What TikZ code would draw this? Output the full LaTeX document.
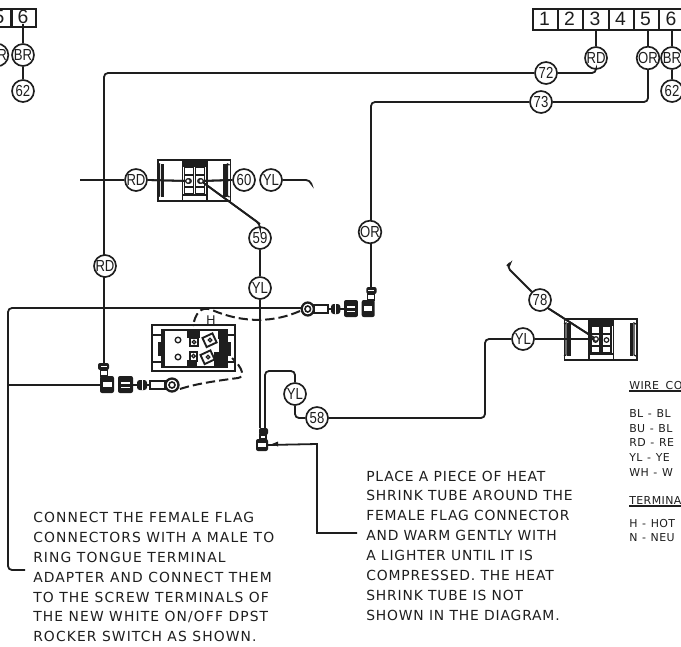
\documentclass[tikz,border=0pt]{standalone}
\usepackage{fontspec}
\setmainfont{DejaVu Sans}
\newfontfamily\notefont[LetterSpace=6]{DejaVu Sans}
\newfontfamily\noteafont[LetterSpace=8]{DejaVu Sans}
\newfontfamily\legfont[LetterSpace=4]{DejaVu Sans}
\newfontfamily\tagfont{Liberation Sans}
\newcommand\tg[1]{\scalebox{.82}[1]{\tagfont #1}}
\newcommand\ld{\hspace{3.5pt}-\hspace{3.5pt}}
\definecolor{ink}{HTML}{1E1E1E}
\tikzset{
 x=.75pt,y=-.75pt,
 wire/.style={draw=ink,line width=1.35pt,rounded corners=3pt},
 dash wire/.style={draw=ink,line width=1.5pt,dash pattern=on 7pt off 3pt},
 tagc/.style={circle,draw=ink,line width=1.25pt,fill=white,minimum size=16.5pt,inner sep=0pt,text=ink,font=\fontsize{12}{12}\selectfont},
 note/.style={align=left,anchor=north west,inner sep=0pt,text=ink,font=\fontsize{10.4}{14.9}\notefont},
 notea/.style={align=left,anchor=north west,inner sep=0pt,text=ink,font=\fontsize{10.4}{14.9}\noteafont},
 legend/.style={anchor=base west,inner sep=0pt,text=ink,font=\fontsize{8.2}{9}\legfont},
 numcell/.style={draw=ink,line width=1.4pt,inner sep=0pt,anchor=north west},
 digit/.style={inner sep=0pt,text=ink,font=\fontsize{14.5}{14.5}\tagfont},
 term/.pic={
  \draw[ink,line width=1.25pt] (-36.5,-20) rectangle (36,21);
  \fill[ink] (-13,-19) rectangle (13,-13);
  \fill[ink] (-13,-19) rectangle (-11.5,20);
  \fill[ink] (11.5,-19) rectangle (13,20);
  \fill[ink] (-13,14) rectangle (13,15.5);
  \foreach \xa in {-10,1}{
    \draw[ink,line width=1pt,fill=white] (\xa,-13) rectangle ++(9,27);
    \draw[ink,line width=1pt] (\xa,-5) -- ++(9,0) (\xa,7) -- ++(9,0);
    \draw[ink,line width=.9pt,fill=white] (\xa+4.5,1) circle (2.3);
  }
  \draw[ink,line width=.9pt] (-37,-15) -- (-35,-16) -- (-35,16) -- (-37,17);
  \fill[ink] (-34,-16) rectangle (-30.5,17);
  \draw[ink,line width=.9pt] (35,-15) -- (33,-16) -- (33,16) -- (35,17);
  \fill[ink] (32,-16) rectangle (28.5,17);
 },
 flagconn/.pic={
  \fill[ink,rounded corners=1.5pt] (-6,-22) rectangle (5,-15);
  \fill[white] (-3,-19.5) rectangle (3,-18.5);
  \draw[ink,line width=1pt,fill=white] (-3.5,-15) rectangle (3.5,-9);
  \fill[ink,rounded corners=1.5pt] (-4,-9) rectangle (10,8);
  \fill[white] (-1,-3) rectangle (8,2);
  \fill[ink,rounded corners=1.5pt] (14,-9) rectangle (29,8);
  \fill[white] (17,-3) rectangle (26,-1.5);
  \fill[white] (17,1.5) rectangle (26,3);
  \draw[ink,line width=1.2pt] (29,0) -- (33,0);
  \fill[ink,rounded corners=2pt] (33,-5) rectangle (43,5);
  \fill[white] (37.5,-5) rectangle (38.5,5);
  \draw[ink,line width=1.2pt] (43,0) -- (46,0);
  \draw[ink,line width=1.2pt,fill=white] (46,-4) rectangle (61,4);
  \draw[ink,line width=1.7pt,fill=white] (68,0) circle (6.5);
  \draw[ink,line width=1.2pt] (68,0) circle (3);
 }
}
\begin{document}
\begin{tikzpicture}
\clip (0,0) rectangle (681,646);
\fill[white] (0,0) rectangle (681,646);

% terminal strips
\node[numcell,minimum width=18.75pt,minimum height=15.75pt] (a1) at (532,8) {};
\node[numcell,minimum width=18.75pt,minimum height=15.75pt] (a2) at (557,8) {};
\node[numcell,minimum width=19.5pt,minimum height=15.75pt] (a3) at (582,8) {};
\node[numcell,minimum width=18.75pt,minimum height=15.75pt] (a4) at (608,8) {};
\node[numcell,minimum width=18.75pt,minimum height=15.75pt] (a5) at (633,8) {};
\node[numcell,minimum width=24pt,minimum height=15.75pt] (a6) at (658,8) {};
\node[digit] (d1) at (544.5,18.5) {1};
\node[digit] (d2) at (569.5,18.5) {2};
\node[digit] (d3) at (595,18.5) {3};
\node[digit] (d4) at (620.5,18.5) {4};
\node[digit] (d5) at (645.5,18.5) {5};
\node[digit] (d6) at (671,18.5) {6};
\node[numcell,minimum width=18pt,minimum height=13.5pt] (b5) at (-14,8) {};
\node[numcell,minimum width=18pt,minimum height=13.5pt] (b6) at (11,8) {};
\node[digit] (d5l) at (-1,17) {5};
\node[digit] (d6l) at (23,17) {6};

% tags
\node[tagc] (rdT) at (596,58) {\tg{RD}};
\node[tagc] (orT) at (648,58) {\tg{OR}};
\node[tagc] (brT) at (672,58) {\tg{BR}};
\node[tagc] (n62r) at (672,91) {\tg{62}};
\node[tagc] (orL) at (-3,55) {\tg{OR}};
\node[tagc] (brL) at (23,55) {\tg{BR}};
\node[tagc] (n62l) at (23,91) {\tg{62}};
\node[tagc] (n72) at (546,73) {\tg{72}};
\node[tagc] (n73) at (541,102) {\tg{73}};
\node[tagc] (orM) at (370,232) {\tg{OR}};
\node[tagc] (rdL) at (105,266) {\tg{RD}};
\node[tagc] (rdH) at (136,180) {\tg{RD}};
\node[tagc] (n60) at (244,180) {\tg{60}};
\node[tagc] (ylH) at (271,180) {\tg{YL}};
\node[tagc] (n59) at (260,238) {\tg{59}};
\node[tagc] (ylV) at (260,288) {\tg{YL}};
\node[tagc] (ylW) at (295,394) {\tg{YL}};
\node[tagc] (n58) at (317,418) {\tg{58}};
\node[tagc] (ylR) at (523,339) {\tg{YL}};
\node[tagc] (n78) at (540,300) {\tg{78}};

% coordinates for connector ends
\coordinate (capL) at (104,363);
\coordinate (capR) at (371,288);
\coordinate (flagL) at (100,385);
\coordinate (ringR) at (302,308);
\coordinate (capW) at (260,428);
\coordinate (capW2) at (265,430);
\coordinate (blockW) at (268,445);
\coordinate (t1a) at (188,181);
\coordinate (t1b) at (201,181);
\coordinate (t2a) at (596,339);
\coordinate (h1) at (80,180);
\coordinate (h2) at (310,180);
\coordinate (h3) at (508,266);
\coordinate (brk) at (8,308);
\coordinate (brk2) at (8,385);
\coordinate (brk3) at (25,570);
\coordinate (note) at (357,533);

% wires
\draw[wire] (a3.south -| rdT) -- (rdT.north);
\draw[wire] (a5.south -| orT) -- (orT.north);
\draw[wire] (a6.south -| brT) -- (brT.north);
\draw[wire] (brT.south) -- (n62r.north);
\draw[wire] (23,24) -- (brL.north);
\draw[wire] (brL.south) -- (n62l.north);
\draw[wire] (rdT.south) |- (n72.east);
\draw[wire] (orT.south) |- (n73.east);
\draw[wire] (n72.west) -- (104,73) -- (104,255);
\draw[wire] (n73.west) -- (371,102) -- (orM.north -| 371,0);
\draw[wire] (orM.south -| 371,0) -- (capR);
\draw[wire] (104,277) -- (capL);
\draw[wire] (h1) -- (rdH.west);
\draw[wire] (rdH.east) -- (t1a);
\draw[wire] (t1b) -- (n60.west);
\draw[wire] (ylH.east) -- (h2) -- (311,183);
\draw[wire] (t1b) -- (260,224) -- (n59.north);
\draw[wire] (n59.south) -- (ylV.north);
\draw[wire] (ylV.south) -- (capW);
\draw[wire] (capW2) -- (265,371) -- (295,371) -- (ylW.north);
\draw[wire] (ylW.south) -- (295,418) -- (n58.west);
\draw[wire] (n58.east) -- (485,418) -- (485,339) -- (ylR.west);
\draw[wire] (ylR.east) -- (t2a);
\draw[wire] (h3) -- (507,267) -- (n78.north west);
\draw[wire] (510,263) -- (507,266);
\draw[wire] (n78.south east) -- (t2a);
\draw[wire] (brk2) -- (flagL);
\draw[wire] (ringR) -- (brk) -- (8,570) -- (brk3);
\draw[wire,rounded corners=0pt] (note) -- (317,533) -- (317,444) -- (blockW);
\fill[ink] (272,444) -- (278,441.5) -- (278,446.5) -- cycle;

% terminals
\pic at (194.5,180) {term};
\pic at (601,339) {term};
\draw[wire] (rdH.east) -- (t1a);
\draw[wire] (t1b) -- (n60.west);
\draw[wire] (t1b) -- (260,224);
\draw[ink,line width=.9pt,fill=white] (t1a) circle (2.3);
\draw[ink,line width=.9pt,fill=white] (t1b) circle (2.3);
\draw[wire] (n78.south east) -- (t2a);
\draw[wire] (ylR.east) -- (t2a);
\draw[ink,line width=.9pt,fill=white] (t2a) circle (2.3);

% connectors
\pic at (104,385) {flagconn};
\pic[xscale=-.93] at (371,309) {flagconn};

% connector at 58/59 wires
\fill[ink,rounded corners=1.5pt] (259,428) rectangle (268,435);
\draw[ink,line width=1pt,fill=white] (260,435) rectangle (266,439);
\fill[ink,rounded corners=1.5pt] (256,439) rectangle (268,451);
\fill[white] (258,443) rectangle (266,447);

% rocker switch
\draw[ink,line width=1.25pt] (152,325) rectangle (235,371);
\draw[ink,line width=1.25pt] (162,330) rectangle (227,367);
\draw[ink,line width=.8pt] (152,335) -- (162,335) (152,362) -- (162,362) (227,335) -- (235,335) (227,362) -- (235,362);
\fill[ink] (158,342) rectangle (162,356);
\fill[ink] (227,342) rectangle (231,356);
\fill[ink] (162,330) rectangle (165,367);
\fill[ink] (218,330) rectangle (227,339);
\fill[ink] (219,339) rectangle (226,358);
\fill[ink] (214,352) rectangle (226,367);
\draw[ink,line width=1pt] (178,340) circle (2.8);
\draw[ink,line width=1pt] (178,357) circle (2.8);
\fill[ink] (187,330) rectangle (200,338);
\fill[ink] (187,360) rectangle (197,367);
\draw[ink,line width=1.2pt,fill=white] (190,338) rectangle (198,346);
\draw[ink,line width=1.2pt,fill=white] (190,352) rectangle (197,361);
\draw[ink,line width=1pt] (194,342) circle (1.8);
\draw[ink,line width=1pt] (193.5,356) circle (1.8);
\draw[ink,line width=1.4pt,fill=white,rotate around={25:(210,340)}] (204,335) rectangle (215,345);
\draw[ink,line width=1.4pt,fill=white,rotate around={25:(208,357)}] (202,352) rectangle (213,362);
\draw[ink,line width=1pt] (210,340) circle (1.8);
\draw[ink,line width=1pt] (208,357) circle (1.8);
\node[inner sep=0pt,text=ink,font=\fontsize{9.5}{9.5}\tagfont] (hlabel) at (211,320) {H};

% dashed flag wires
\draw[dash wire] (300,311) .. controls (275,322) and (245,324) .. (212,310) .. controls (200,305) and (195,315) .. (193,326);
\draw[dash wire] (180,389) .. controls (195,384) and (215,381) .. (238,378) .. controls (245,377) and (243,368) .. (232,358);

% texts
\node[notea] (noteA) at (33,512) {CONNECT THE FEMALE FLAG\\CONNECTORS WITH A MALE TO\\RING TONGUE TERMINAL\\ADAPTER AND CONNECT THEM\\TO THE SCREW TERMINALS OF\\THE NEW WHITE ON/OFF DPST\\ROCKER SWITCH AS SHOWN.};
\node[note] (noteB) at (366,470.5) {PLACE A PIECE OF HEAT\\SHRINK TUBE AROUND THE\\FEMALE FLAG CONNECTOR\\AND WARM GENTLY WITH\\A LIGHTER UNTIL IT IS\\COMPRESSED. THE HEAT\\SHRINK TUBE IS NOT\\SHOWN IN THE DIAGRAM.};

\node[legend] (l1) at (629,389) {WIRE\hspace{2pt} CO};
\draw[ink,line width=.8pt] (629,391) -- (681,391);
\node[legend] (l2) at (629,417) {BL\ld BL};
\node[legend] (l3) at (629,432) {BU\ld BL};
\node[legend] (l4) at (629,446) {RD\ld RE};
\node[legend] (l5) at (629,461) {YL\ld YE};
\node[legend] (l6) at (629,476) {WH\ld W};
\node[legend] (l7) at (629,504) {TERMINA};
\draw[ink,line width=.8pt] (629,506) -- (681,506);
\node[legend] (l8) at (629,527) {H\ld HOT};
\node[legend] (l9) at (629,541) {N\ld NEU};
\end{tikzpicture}
\end{document}
